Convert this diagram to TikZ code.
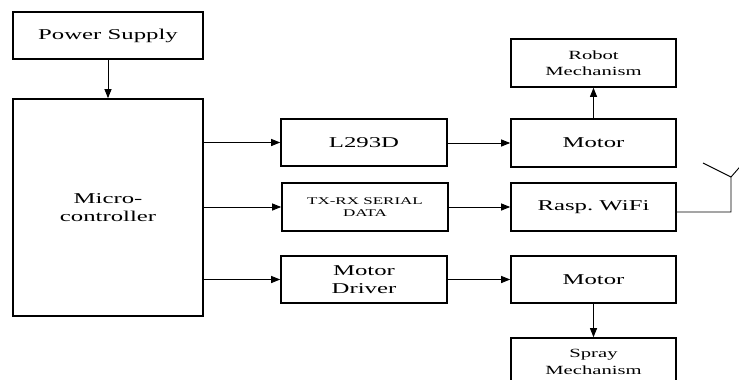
\documentclass[tikz,border=0pt]{standalone}
\usepackage{fontspec}
\setmainfont{Liberation Serif}[FakeStretch=1.65]
\usetikzlibrary{arrows.meta,positioning,calc}

\begin{document}
\begin{tikzpicture}[x=1pt,y=-1pt,
  block/.style={draw,line width=1.6pt,inner sep=0pt,align=center,font=\fontsize{15}{18}\selectfont},
  small/.style={font=\fontsize{12.5}{16.5}\selectfont},
  tiny/.style={font=\fontsize{10.3}{12}\selectfont},
  link/.style={line width=0.9pt,-{Triangle[length=9pt,width=7pt]}}]
\clip (0,0) rectangle (739,380);
\useasboundingbox (0,0) rectangle (739,380);

% left column
\node[block,minimum width=190,minimum height=47] (power) at (108,35.5) {Power Supply};
\node[block,minimum width=190,minimum height=217] (micro) at (108,207.5) {Micro-\\controller};

% middle column
\node[block,minimum width=166,minimum height=47] (l293) at (364,142.5) {L293D};
\node[block,tiny,minimum width=166,minimum height=48] (txrx) at (365,207) {TX-RX SERIAL\\DATA};
\node[block,minimum width=166,minimum height=47] (mdrv) at (364,279.5) {Motor\\Driver};

% right column
\node[block,small,minimum width=165,minimum height=48] (robot) at (593.5,63) {Robot\\Mechanism};
\node[block,minimum width=165,minimum height=48] (motA) at (593.5,143) {Motor};
\node[block,minimum width=165,minimum height=48] (rasp) at (593.5,207) {Rasp.\ WiFi};
\node[block,minimum width=165,minimum height=47] (motB) at (593.5,279.5) {Motor};
\node[block,small,minimum width=165,minimum height=48] (spray) at (593.5,362) {Spray\\Mechanism};

% connectors
\draw[link] (power) -- (micro);
\draw[link] (micro.east |- l293.west) -- (l293.west);
\draw[link] (micro.east |- txrx.west) -- (txrx.west);
\draw[link] (micro.east |- mdrv.west) -- (mdrv.west);
\draw[link] (l293.east |- motA.west) -- (motA.west);
\draw[link] (txrx.east |- rasp.west) -- (rasp.west);
\draw[link] (mdrv.east |- motB.west) -- (motB.west);
\draw[link] (motA) -- (robot);
\draw[link] (motB) -- (spray);

% antenna
\coordinate (ant) at (731,177);
\draw[line width=0.9pt] ($(rasp.east)+(0,5)$) -- (ant |- 0,212) -- (ant) -- (703,163);
\draw[line width=0.9pt] (ant) -- (745,161);
\end{tikzpicture}
\end{document}
